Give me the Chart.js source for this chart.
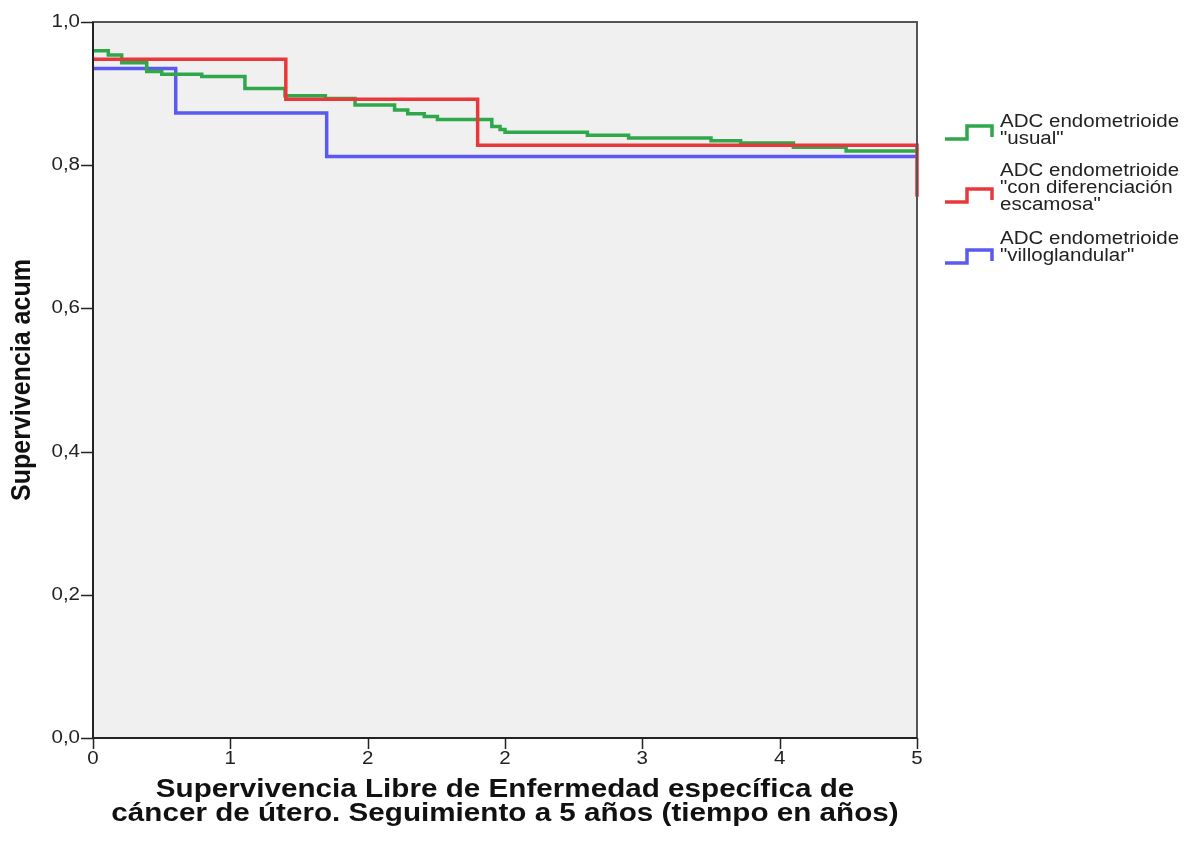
<!DOCTYPE html>
<html>
<head>
<meta charset="utf-8">
<script src="https://cdn.jsdelivr.net/npm/chart.js@4/dist/chart.umd.min.js"></script>
<style>
  html, body { margin: 0; padding: 0; background: #fff; }
  canvas { display: block; }
</style>
</head>
<body>
<canvas id="km" width="1190" height="847"></canvas>
<script>
// Kaplan-Meier curves, time in years (x) and cumulative survival (y)
const usualTimes = [0, 0.093, 0.174, 0.326, 0.417, 0.66, 0.922, 1.165, 1.41, 1.59, 1.83, 1.91, 2.01, 2.09, 2.42, 2.47, 2.50, 3.0, 3.25, 3.75, 3.93, 4.25, 4.57, 5];
const usualSurv  = [0.960, 0.954, 0.943, 0.931, 0.927, 0.924, 0.907, 0.897, 0.893, 0.884, 0.877, 0.872, 0.868, 0.864, 0.854, 0.850, 0.846, 0.842, 0.838, 0.834, 0.831, 0.825, 0.820, 0.820];

const squamousTimes = [0, 1.17, 2.334, 5];
const squamousSurv  = [0.948, 0.892, 0.828, 0.756];

const villousTimes = [0, 0.502, 1.418, 5];
const villousSurv  = [0.935, 0.873, 0.812, 0.812];

const groupLabels = [
  ['ADC endometrioide', '"usual"'],
  ['ADC endometrioide', '"con diferenciación', 'escamosa"'],
  ['ADC endometrioide', '"villoglandular"']
];
const groupColors = ['#2ea84a', '#e8383b', '#5a5af0'];

// x ticks every 5/6 year, labels rounded the way the stats package printed them
const xTickValues = [0, 0.8333, 1.6667, 2.5, 3.3333, 4.1667, 5];
const xTickLabels = ['0', '1', '2', '2', '3', '4', '5'];
const yTickValues = [0, 0.2, 0.4, 0.6, 0.8, 1.0];
const yTickLabels = ['0,0', '0,2', '0,4', '0,6', '0,8', '1,0'];

const xTitle = ['Supervivencia Libre de Enfermedad específica de', 'cáncer de útero. Seguimiento a 5 años (tiempo en años)'];
const yTitle = 'Supervivencia acum';

function toPoints(times, surv) {
  return times.map((t, i) => ({ x: t, y: surv[i] }));
}

const FONT = '"Liberation Sans", Arial, sans-serif';
const SX = 1.14; // text is drawn slightly wide

function wideText(ctx, text, x, y, font, align) {
  ctx.save();
  ctx.font = font;
  ctx.textBaseline = 'middle';
  ctx.textAlign = align;
  ctx.translate(x, y);
  ctx.scale(SX, 1);
  ctx.fillText(text, 0, 0);
  ctx.restore();
}

const frame = {
  id: 'frame',
  beforeDatasetsDraw(chart) {
    const { ctx, chartArea: a } = chart;
    ctx.save();
    ctx.fillStyle = '#f0f0f0';
    ctx.fillRect(a.left, a.top, a.right - a.left, a.bottom - a.top);
    ctx.restore();
  },
  afterDraw(chart) {
    const { ctx, chartArea: a, scales } = chart;
    ctx.save();
    ctx.strokeStyle = '#555';
    ctx.lineWidth = 2;
    ctx.strokeRect(a.left, a.top, a.right - a.left, a.bottom - a.top);
    ctx.strokeStyle = '#222';
    ctx.beginPath();
    ctx.moveTo(a.left, a.top);
    ctx.lineTo(a.left, a.bottom);
    ctx.lineTo(a.right, a.bottom);
    ctx.stroke();

    // tick marks
    ctx.lineWidth = 1.5;
    ctx.strokeStyle = '#222';
    ctx.beginPath();
    scales.x.ticks.forEach(t => {
      const px = Math.round(scales.x.getPixelForValue(t.value)) + 0.5;
      ctx.moveTo(px, a.bottom);
      ctx.lineTo(px, a.bottom + 11);
    });
    scales.y.ticks.forEach(t => {
      const py = Math.round(scales.y.getPixelForValue(t.value)) + 0.5;
      ctx.moveTo(a.left - 12, py);
      ctx.lineTo(a.left, py);
    });
    ctx.stroke();

    // tick labels
    ctx.fillStyle = '#222';
    scales.x.ticks.forEach((t, i) => {
      wideText(ctx, xTickLabels[i], scales.x.getPixelForValue(t.value), a.bottom + 21, '18px ' + FONT, 'center');
    });
    scales.y.ticks.forEach((t, i) => {
      wideText(ctx, yTickLabels[i], a.left - 13, scales.y.getPixelForValue(t.value), '18px ' + FONT, 'right');
    });

    // axis titles
    ctx.fillStyle = '#111';
    const cx = (a.left + a.right) / 2;
    wideText(ctx, xTitle[0], cx, a.bottom + 52, 'bold 26px ' + FONT, 'center');
    wideText(ctx, xTitle[1], cx, a.bottom + 76, 'bold 26px ' + FONT, 'center');

    ctx.save();
    ctx.translate(22, (a.top + a.bottom) / 2);
    ctx.rotate(-Math.PI / 2);
    ctx.scale(1, SX);
    ctx.font = 'bold 25px ' + FONT;
    ctx.textAlign = 'center';
    ctx.textBaseline = 'middle';
    ctx.fillText(yTitle, 0, 0);
    ctx.restore();

    // legend with step-shaped keys
    const legendTop = [122, 171, 239];
    const keyTop = [126, 189, 250];
    groupLabels.forEach((lines, g) => {
      ctx.strokeStyle = groupColors[g];
      ctx.lineWidth = 3.5;
      const k = keyTop[g];
      ctx.beginPath();
      ctx.moveTo(945, k + 13);
      ctx.lineTo(967, k + 13);
      ctx.lineTo(967, k);
      ctx.lineTo(992, k);
      ctx.lineTo(992, k + 11);
      ctx.stroke();
      ctx.fillStyle = '#222';
      lines.forEach((ln, j) => {
        wideText(ctx, ln, 1000, legendTop[g] + j * 17, '18px ' + FONT, 'left');
      });
    });
    ctx.restore();
  }
};

new Chart(document.getElementById('km'), {
  type: 'line',
  data: {
    datasets: [
      { label: groupLabels[0].join(' '), data: toPoints(usualTimes, usualSurv), borderColor: groupColors[0], order: 2 },
      { label: groupLabels[1].join(' '), data: toPoints(squamousTimes, squamousSurv), borderColor: groupColors[1], order: 1 },
      { label: groupLabels[2].join(' '), data: toPoints(villousTimes, villousSurv), borderColor: groupColors[2], order: 3 }
    ].map(d => Object.assign(d, {
      stepped: 'before',
      borderWidth: 3.5,
      pointRadius: 0,
      fill: false,
      clip: 4
    }))
  },
  options: {
    responsive: false,
    animation: false,
    events: [],
    layout: { padding: { left: 93, top: 22, right: 273, bottom: 109 } },
    plugins: { legend: { display: false }, tooltip: { enabled: false } },
    scales: {
      x: {
        type: 'linear',
        min: 0,
        max: 5,
        afterBuildTicks: s => { s.ticks = xTickValues.map(v => ({ value: v })); },
        afterFit: s => { s.height = 0; },
        ticks: { display: false },
        grid: { display: false },
        border: { display: false }
      },
      y: {
        type: 'linear',
        min: 0,
        max: 1,
        afterBuildTicks: s => { s.ticks = yTickValues.map(v => ({ value: v })); },
        afterFit: s => { s.width = 0; },
        ticks: { display: false },
        grid: { display: false },
        border: { display: false }
      }
    }
  },
  plugins: [frame]
});
</script>
</body>
</html>
